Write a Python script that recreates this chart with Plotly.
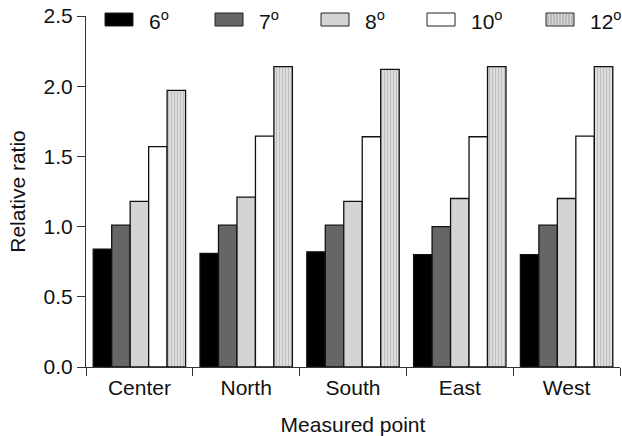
import plotly.graph_objects as go

categories = ["Center", "North", "South", "East", "West"]
series_names = ["6<sup>o</sup>", "7<sup>o</sup>", "8<sup>o</sup>", "10<sup>o</sup>", "12<sup>o</sup>"]
v6 = [0.84, 0.81, 0.82, 0.80, 0.80]
v7 = [1.01, 1.01, 1.01, 1.00, 1.01]
v8 = [1.18, 1.21, 1.18, 1.20, 1.20]
v10 = [1.57, 1.645, 1.64, 1.64, 1.645]
v12 = [1.97, 2.14, 2.12, 2.14, 2.14]
series_values = [v6, v7, v8, v10, v12]
y_ticks = [0.0, 0.5, 1.0, 1.5, 2.0, 2.5]
y_ticklabels = ["0.0", "0.5", "1.0", "1.5", "2.0", "2.5"]

fills = ["#000000", "#666666", "#d4d4d4", "#ffffff", "#d8d8d8"]
pattern = dict(shape="|", fgcolor="#9a9a9a", bgcolor="#e2e2e2",
               size=3, solidity=0.45, fillmode="overlay")

W, H = 622, 436
ML, MR, MT, MB = 86, 2, 16, 69
PW, PH = W - ML - MR, H - MT - MB

def px2x(px):
    return (px - ML) / PW

def py2y(py):
    return (H - MB - py) / PH

fig = go.Figure()
for i, (name, vals) in enumerate(zip(series_names, series_values)):
    marker = dict(color=fills[i], line=dict(color="#111111", width=1.3))
    if i == 4:
        marker["pattern"] = pattern
    fig.add_trace(go.Bar(x=categories, y=vals, name=name, marker=marker,
                         showlegend=False))

# custom legend (wide rectangular swatches like the reference)
font = "Liberation Sans, Arial, sans-serif"
leg_px = [105, 215, 321, 427, 546]
rect_w, rect_top, rect_bot = 28, 13, 26
shapes = []
annotations = []
for i, (name, lx) in enumerate(zip(series_names, leg_px)):
    shapes.append(dict(type="rect", xref="paper", yref="paper",
                       x0=px2x(lx), x1=px2x(lx + rect_w),
                       y0=py2y(rect_bot), y1=py2y(rect_top),
                       fillcolor=fills[i], line=dict(color="#222222", width=1)))
    if i == 4:
        for k in range(2, rect_w - 1, 3):
            shapes.append(dict(type="line", xref="paper", yref="paper",
                               x0=px2x(lx + k), x1=px2x(lx + k),
                               y0=py2y(rect_bot - 1), y1=py2y(rect_top + 1),
                               line=dict(color="#9a9a9a", width=1)))
    annotations.append(dict(text=name, xref="paper", yref="paper",
                            x=px2x(lx + 42), y=py2y(20), xanchor="left",
                            yanchor="middle", showarrow=False,
                            font=dict(family=font, size=21, color="#111111")))

fig.update_layout(
    width=W, height=H,
    margin=dict(l=ML, r=MR, t=MT, b=MB),
    plot_bgcolor="white", paper_bgcolor="white",
    barmode="group", bargap=0.135, bargroupgap=0,
    font=dict(family=font, size=21, color="#111111"),
    showlegend=False,
    shapes=shapes, annotations=annotations,
)
fig.update_xaxes(
    showline=True, linecolor="#333333", linewidth=1,
    ticks="outside", tickson="boundaries", ticklen=8, tickcolor="#333333",
    ticklabelstandoff=2,
    title=dict(text="Measured point", font=dict(size=21), standoff=20),
    showgrid=False, zeroline=False, automargin=False,
)
fig.update_yaxes(
    range=[0, 2.5], tickvals=y_ticks, ticktext=y_ticklabels,
    showline=True, linecolor="#333333", linewidth=1,
    ticks="outside", ticklen=8, tickcolor="#333333",
    title=dict(text="Relative ratio", font=dict(size=21), standoff=12),
    showgrid=False, zeroline=False, automargin=False,
)
fig.write_html("out.html")
